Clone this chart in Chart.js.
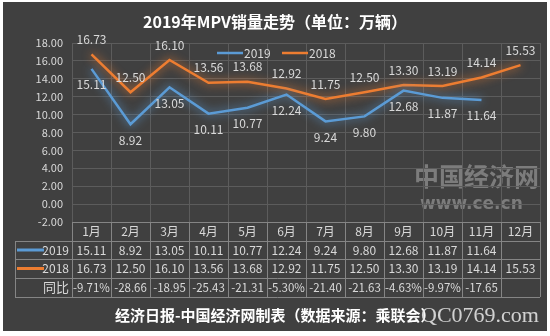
<!DOCTYPE html>
<html>
<head>
<meta charset="utf-8">
<script src="https://cdn.jsdelivr.net/npm/chart.js@4"></script>
<style>
  html, body { margin: 0; padding: 0; background: #fff; }
  #wrap { width: 550px; height: 336px; }
</style>
</head>
<body>
<div id="wrap"><canvas id="chartMpv" width="550" height="336"></canvas></div>
<script>
const months = ['1月', '2月', '3月', '4月', '5月', '6月', '7月', '8月', '9月', '10月', '11月', '12月'];
const sales2019 = [15.11, 8.92, 13.05, 10.11, 10.77, 12.24, 9.24, 9.80, 12.68, 11.87, 11.64, null];
const sales2018 = [16.73, 12.50, 16.10, 13.56, 13.68, 12.92, 11.75, 12.50, 13.30, 13.19, 14.14, 15.53];
const yoyText = ['-9.71%', '-28.66', '-18.95', '-25.43', '-21.31', '-5.30%', '-21.40', '-21.63', '-4.63%', '-9.97%', '-17.65', ''];
const yTicks = { min: -2, max: 18, step: 2 };

const FONT = '"Noto Sans CJK SC", "Noto Sans", sans-serif';
const TXT = '#d9d9d9';
const BLUE = '#5b9bd5';
const ORANGE = '#ed7d31';

// background, glow, labels, legend, table
const decor = {
  id: 'decor',
  beforeDraw(chart) {
    const ctx = chart.ctx;
    ctx.save();
    ctx.fillStyle = '#ffffff';
    ctx.fillRect(0, 0, chart.width, chart.height);
    ctx.fillStyle = '#404040';
    ctx.fillRect(3, 2, 544, 329);
    ctx.fillStyle = '#ffffff';
    ctx.font = 'bold 16px ' + FONT;
    ctx.textAlign = 'center';
    ctx.textBaseline = 'middle';
    ctx.fillText('2019年MPV销量走势（单位：万辆）', 275, 22);

    // watermark under the lines
    ctx.fillStyle = 'rgba(150,150,150,0.7)';
    ctx.font = 'bold 25px ' + FONT;
    ctx.textAlign = 'left';
    ctx.fillText('中国经济网', 414, 176);
    ctx.font = 'bold 17px "DejaVu Sans", sans-serif';
    ctx.fillText('www.ce.cn', 420, 205);
    ctx.restore();
  },
  beforeDatasetDraw(chart, args) {
    const ds = chart.data.datasets[args.index];
    chart.ctx.save();
    chart.ctx.shadowColor = ds.borderColor;
    chart.ctx.shadowBlur = 10;
  },
  afterDatasetDraw(chart) {
    chart.ctx.restore();
  },
  afterDraw(chart) {
    const ctx = chart.ctx;
    const xs = chart.scales.x;
    const area = chart.chartArea;
    ctx.save();
    ctx.textBaseline = 'middle';

    // point labels
    ctx.font = '12px ' + FONT;
    ctx.fillStyle = TXT;
    ctx.textAlign = 'center';
    chart.data.datasets.forEach((ds, i) => {
      const meta = chart.getDatasetMeta(i);
      meta.data.forEach((pt, j) => {
        const v = ds.data[j];
        if (v === null) return;
        const dy = i === 0 ? 16 : -15;
        ctx.fillText(v.toFixed(2), pt.x, pt.y + dy);
      });
    });

    // legend
    chart.data.datasets.forEach((ds, i) => {
      const x0 = 217 + i * 65;
      ctx.strokeStyle = ds.borderColor;
      ctx.lineWidth = 2.5;
      ctx.beginPath();
      ctx.moveTo(x0, 53);
      ctx.lineTo(x0 + 26, 53);
      ctx.stroke();
      ctx.textAlign = 'left';
      ctx.fillStyle = TXT;
      ctx.fillText(ds.label, x0 + 27, 53);
    });

    // data table
    const rows = [222, 241, 259, 278, 297];
    const leftX = 15;
    ctx.strokeStyle = '#858585';
    ctx.lineWidth = 1;
    ctx.beginPath();
    ctx.moveTo(area.left, rows[0] + 0.5);
    ctx.lineTo(area.right, rows[0] + 0.5);
    for (let r = 1; r < rows.length; r++) {
      ctx.moveTo(leftX, rows[r] + 0.5);
      ctx.lineTo(area.right, rows[r] + 0.5);
    }
    ctx.moveTo(leftX + 0.5, rows[1]);
    ctx.lineTo(leftX + 0.5, rows[4]);
    const half = (xs.getPixelForValue(1) - xs.getPixelForValue(0)) / 2;
    for (let c = 0; c <= months.length; c++) {
      const gx = Math.round(c < months.length ? xs.getPixelForValue(c) - half : xs.getPixelForValue(c - 1) + half) + 0.5;
      ctx.moveTo(gx, rows[0]);
      ctx.lineTo(gx, rows[4]);
    }
    ctx.stroke();

    ctx.fillStyle = TXT;
    ctx.textAlign = 'center';
    const mid = r => (rows[r] + rows[r + 1]) / 2;
    months.forEach((m, j) => {
      const cx = xs.getPixelForValue(j);
      ctx.font = '12px ' + FONT;
      ctx.fillText(m, cx, mid(0));
      ctx.fillText(sales2019[j] === null ? '' : sales2019[j].toFixed(2), cx, mid(1));
      ctx.fillText(sales2018[j].toFixed(2), cx, mid(2));
      ctx.font = '11.5px ' + FONT;
      ctx.fillText(yoyText[j], cx, mid(3));
    });

    ctx.textAlign = 'right';
    ctx.font = '12px ' + FONT;
    chart.data.datasets.forEach((ds, i) => {
      ctx.fillStyle = TXT;
      ctx.fillText(ds.label, area.left - 3, mid(i + 1));
      ctx.strokeStyle = ds.borderColor;
      ctx.lineWidth = 3;
      ctx.beginPath();
      ctx.moveTo(17, mid(i + 1));
      ctx.lineTo(44, mid(i + 1));
      ctx.stroke();
    });
    ctx.fillStyle = TXT;
    ctx.font = '13px ' + FONT;
    ctx.fillText('同比', area.left - 3, mid(3));

    // footer
    ctx.textAlign = 'left';
    ctx.fillStyle = '#ffffff';
    ctx.font = 'bold 15px ' + FONT;
    ctx.fillText('经济日报-中国经济网制表（数据来源：乘联会）', 115, 315);
    ctx.fillStyle = 'rgba(225,225,225,0.9)';
    ctx.font = '22px "Liberation Serif", serif';
    ctx.fillText('QC0769.com', 421, 316);

    ctx.restore();
  }
};

const ctxMpv = document.getElementById('chartMpv').getContext('2d');
new Chart(ctxMpv, {
  type: 'line',
  data: {
    labels: months,
    datasets: [{
      label: '2019',
      data: sales2019,
      borderColor: BLUE,
      borderWidth: 2.5,
      pointRadius: 0,
      tension: 0,
      spanGaps: false
    }, {
      label: '2018',
      data: sales2018,
      borderColor: ORANGE,
      borderWidth: 2.5,
      pointRadius: 0,
      tension: 0
    }]
  },
  options: {
    responsive: false,
    animation: false,
    layout: { padding: { left: 0, right: 10, top: 43, bottom: 114 } },
    plugins: {
      legend: { display: false },
      title: { display: false },
      tooltip: { enabled: false }
    },
    scales: {
      x: {
        offset: true,
        grid: { color: '#5c5c5c', offset: true, drawTicks: false },
        border: { display: false },
        ticks: { display: false },
        afterFit: s => { s.height = 0; }
      },
      y: {
        min: yTicks.min,
        max: yTicks.max,
        afterFit: s => { s.width = 72; },
        grid: { color: '#5c5c5c', drawTicks: false },
        border: { display: false },
        ticks: {
          stepSize: yTicks.step,
          padding: 9,
          color: TXT,
          font: { size: 11, family: FONT },
          callback: v => v.toFixed(2)
        }
      }
    }
  },
  plugins: [decor]
});
</script>
</body>
</html>
